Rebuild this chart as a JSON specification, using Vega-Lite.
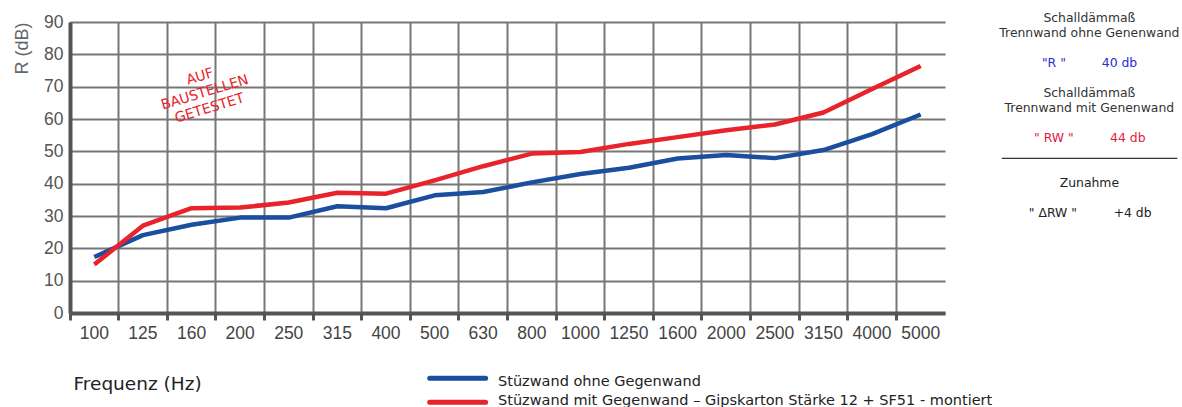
{
  "$schema": "https://vega.github.io/schema/vega-lite/v6.json",
  "width": 875,
  "height": 291,
  "autosize": {"type": "none"},
  "padding": {"left": 70, "top": 22, "right": 237, "bottom": 94},
  "background": "white",
  "config": {"view": {"stroke": null}, "font": "DejaVu Sans"},
  "datasets": {
    "lines": [
      {"f": "100", "s": "ohne", "v": 17.3}, {"f": "125", "s": "ohne", "v": 24.1}, {"f": "160", "s": "ohne", "v": 27.3},
      {"f": "200", "s": "ohne", "v": 29.5}, {"f": "250", "s": "ohne", "v": 29.5}, {"f": "315", "s": "ohne", "v": 33},
      {"f": "400", "s": "ohne", "v": 32.4}, {"f": "500", "s": "ohne", "v": 36.4}, {"f": "630", "s": "ohne", "v": 37.4},
      {"f": "800", "s": "ohne", "v": 40.4}, {"f": "1000", "s": "ohne", "v": 43}, {"f": "1250", "s": "ohne", "v": 44.9},
      {"f": "1600", "s": "ohne", "v": 47.8}, {"f": "2000", "s": "ohne", "v": 48.9}, {"f": "2500", "s": "ohne", "v": 47.9},
      {"f": "3150", "s": "ohne", "v": 50.4}, {"f": "4000", "s": "ohne", "v": 55.3}, {"f": "5000", "s": "ohne", "v": 61.4},
      {"f": "100", "s": "mit", "v": 15}, {"f": "125", "s": "mit", "v": 27}, {"f": "160", "s": "mit", "v": 32.4},
      {"f": "200", "s": "mit", "v": 32.6}, {"f": "250", "s": "mit", "v": 34.2}, {"f": "315", "s": "mit", "v": 37.2},
      {"f": "400", "s": "mit", "v": 36.9}, {"f": "500", "s": "mit", "v": 41}, {"f": "630", "s": "mit", "v": 45.4},
      {"f": "800", "s": "mit", "v": 49.3}, {"f": "1000", "s": "mit", "v": 49.8}, {"f": "1250", "s": "mit", "v": 52.3},
      {"f": "1600", "s": "mit", "v": 54.4}, {"f": "2000", "s": "mit", "v": 56.5}, {"f": "2500", "s": "mit", "v": 58.3},
      {"f": "3150", "s": "mit", "v": 62}, {"f": "4000", "s": "mit", "v": 69.3}, {"f": "5000", "s": "mit", "v": 76.4}
    ],
    "note": [{"f": "160", "v": 73, "t": "AUF\nBAUSTELLEN\nGETESTET"}],
    "panel": [
      {"t": "Schalldämmaß", "u": 20.97, "r": 0, "k": "hdr"},
      {"t": "Trennwand ohne Genenwand", "u": 20.97, "r": 1, "k": "hdr"},
      {"t": "\"R \"", "u": 20.24, "r": 3, "k": "R"},
      {"t": "40 db", "u": 21.59, "r": 3, "k": "R"},
      {"t": "Schalldämmaß", "u": 20.97, "r": 5, "k": "hdr"},
      {"t": "Trennwand mit Genenwand", "u": 20.97, "r": 6, "k": "hdr"},
      {"t": "\" RW \"", "u": 20.24, "r": 8, "k": "RW"},
      {"t": "44 db", "u": 21.76, "r": 8, "k": "RW"},
      {"t": "Zunahme", "u": 20.97, "r": 11, "k": "txt"},
      {"t": "\" ΔRW \"", "u": 20.22, "r": 13, "k": "txt"},
      {"t": "+4 db", "u": 21.86, "r": 13, "k": "txt"}
    ],
    "sep": [{"u": 19.17, "u2": 22.78, "r": 9.09, "k": "hdr"}],
    "legendLines": [
      {"u": 7.4, "u2": 8.55, "r": 23.75, "k": "ohne"},
      {"u": 7.4, "u2": 8.55, "r": 25.35, "k": "mit"}
    ],
    "legendText": [
      {"t": "Stüzwand ohne Gegenwand", "u": 8.805, "r": 24.27, "k": "txt"},
      {"t": "Stüzwand mit Gegenwand – Gipskarton Stärke 12 + SF51 - montiert", "u": 8.805, "r": 25.5, "k": "txt"}
    ]
  },
  "layer": [
    {
      "data": {"name": "lines"},
      "mark": {"type": "line", "strokeWidth": 4.5, "strokeJoin": "round"},
      "encoding": {
        "x": {
          "field": "f", "type": "ordinal",
          "scale": {"type": "band", "domain": ["100","125","160","200","250","315","400","500","630","800","1000","1250","1600","2000","2500","3150","4000","5000"], "paddingInner": 0, "paddingOuter": 0},
          "axis": {
            "title": "Frequenz (Hz)", "bandPosition": 0, "labelAngle": 0,
            "grid": true, "gridColor": "#777", "gridWidth": 2,
            "domainColor": "#555", "domainWidth": 4,
            "ticks": true, "tickColor": "#555", "tickWidth": 3, "tickSize": 7,
            "labelFont": "Liberation Sans", "labelFontSize": 17.5, "labelColor": "#444", "labelPadding": 4,
            "titleX": 3, "titleY": 76, "titleAlign": "left", "titleBaseline": "alphabetic",
            "titleFont": "DejaVu Sans", "titleFontSize": 18.5, "titleFontWeight": "normal", "titleColor": "#222"
          }
        },
        "y": {
          "field": "v", "type": "quantitative",
          "scale": {"domain": [0, 90], "nice": false},
          "axis": {
            "title": "R (dB)", "values": [0,10,20,30,40,50,60,70,80,90], "labelOverlap": false,
            "grid": true, "gridColor": "#777", "gridWidth": 2,
            "domainColor": "#555", "domainWidth": 4,
            "ticks": false, "tickSize": 0,
            "labelFont": "Liberation Sans", "labelFontSize": 17.5, "labelColor": "#555", "labelPadding": 7,
            "titleX": -48, "titleY": 0, "titleAngle": -90, "titleAlign": "right", "titleBaseline": "middle",
            "titleFont": "Liberation Sans", "titleFontSize": 18, "titleFontWeight": "normal", "titleColor": "#666"
          }
        },
        "color": {"field": "s", "type": "nominal", "sort": null, "scale": {"domain": ["ohne", "mit"], "range": ["#1a4e9e", "#e8232b"]}, "legend": null}
      }
    },
    {
      "data": {"name": "note"},
      "mark": {"type": "text", "angle": -17, "align": "center", "baseline": "middle", "lineBreak": "\n", "lineHeight": 16.5, "font": "DejaVu Sans", "fontSize": 14, "color": "#e8232b"},
      "encoding": {
        "x": {"field": "f", "type": "ordinal", "bandPosition": 0.675, "scale": {"type": "band", "domain": ["100","125","160","200","250","315","400","500","630","800","1000","1250","1600","2000","2500","3150","4000","5000"], "paddingInner": 0, "paddingOuter": 0}, "axis": null},
        "y": {"field": "v", "type": "quantitative", "scale": {"domain": [0, 90], "nice": false}, "axis": null},
        "text": {"field": "t"}
      }
    },
    {
      "data": {"name": "panel"},
      "mark": {"type": "text", "align": "center", "baseline": "alphabetic", "font": "DejaVu Sans", "fontSize": 12.4},
      "encoding": {
        "x": {"field": "u", "type": "quantitative", "scale": {"domain": [0, 18], "nice": false, "zero": false}, "axis": null},
        "y": {"field": "r", "type": "quantitative", "scale": {"domain": [0, 19.4], "reverse": true, "nice": false, "zero": false}, "axis": null},
        "color": {"field": "k", "type": "nominal", "scale": {"domain": ["hdr", "R", "RW", "txt", "ohne", "mit"], "range": ["#333333", "#2a2ad8", "#e3203a", "#222222", "#1a4e9e", "#e8232b"]}, "legend": null},
        "text": {"field": "t"}
      }
    },
    {
      "data": {"name": "sep"},
      "mark": {"type": "rule", "strokeWidth": 1.3},
      "encoding": {
        "x": {"field": "u", "type": "quantitative", "scale": {"domain": [0, 18], "nice": false, "zero": false}, "axis": null},
        "x2": {"field": "u2"},
        "y": {"field": "r", "type": "quantitative", "scale": {"domain": [0, 19.4], "reverse": true, "nice": false, "zero": false}, "axis": null},
        "color": {"field": "k", "type": "nominal", "scale": {"domain": ["hdr", "R", "RW", "txt", "ohne", "mit"], "range": ["#333333", "#2a2ad8", "#e3203a", "#222222", "#1a4e9e", "#e8232b"]}, "legend": null}
      }
    },
    {
      "data": {"name": "legendLines"},
      "mark": {"type": "rule", "strokeWidth": 5, "strokeCap": "round"},
      "encoding": {
        "x": {"field": "u", "type": "quantitative", "scale": {"domain": [0, 18], "nice": false, "zero": false}, "axis": null},
        "x2": {"field": "u2"},
        "y": {"field": "r", "type": "quantitative", "scale": {"domain": [0, 19.4], "reverse": true, "nice": false, "zero": false}, "axis": null},
        "color": {"field": "k", "type": "nominal", "scale": {"domain": ["hdr", "R", "RW", "txt", "ohne", "mit"], "range": ["#333333", "#2a2ad8", "#e3203a", "#222222", "#1a4e9e", "#e8232b"]}, "legend": null}
      }
    },
    {
      "data": {"name": "legendText"},
      "mark": {"type": "text", "align": "left", "baseline": "alphabetic", "font": "DejaVu Sans", "fontSize": 14.5},
      "encoding": {
        "x": {"field": "u", "type": "quantitative", "scale": {"domain": [0, 18], "nice": false, "zero": false}, "axis": null},
        "y": {"field": "r", "type": "quantitative", "scale": {"domain": [0, 19.4], "reverse": true, "nice": false, "zero": false}, "axis": null},
        "color": {"field": "k", "type": "nominal", "scale": {"domain": ["hdr", "R", "RW", "txt", "ohne", "mit"], "range": ["#333333", "#2a2ad8", "#e3203a", "#222222", "#1a4e9e", "#e8232b"]}, "legend": null},
        "text": {"field": "t"}
      }
    }
  ],
  "resolve": {"scale": {"x": "independent", "y": "independent", "color": "independent"}}
}
